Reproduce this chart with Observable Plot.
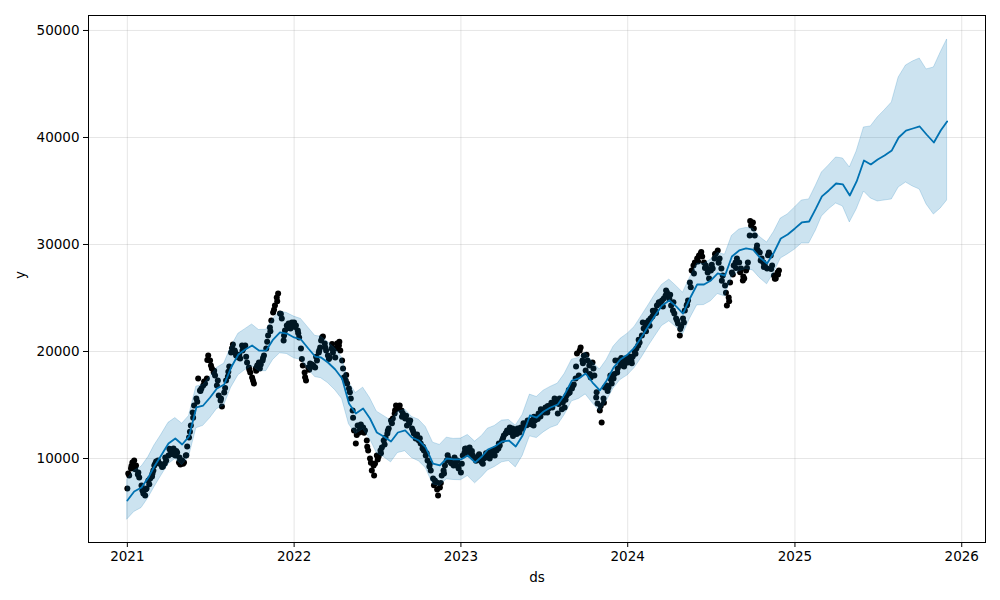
<!DOCTYPE html>
<html>
<head>
<meta charset="utf-8">
<script src="https://cdn.jsdelivr.net/npm/d3@7"></script>
<script src="https://cdn.jsdelivr.net/npm/@observablehq/plot@0.6"></script>
<style>
  html, body { margin: 0; padding: 0; background: #fff; }
  #chart { width: 1000px; height: 600px; }
</style>
</head>
<body>
<div id="chart"></div>
<script>
// ---- Data ----
const months = [
  "2021-01","2021-02","2021-03","2021-04","2021-05","2021-06","2021-07","2021-08","2021-09","2021-10","2021-11","2021-12",
  "2022-01","2022-02","2022-03","2022-04","2022-05","2022-06","2022-07","2022-08","2022-09","2022-10","2022-11","2022-12",
  "2023-01","2023-02","2023-03","2023-04","2023-05","2023-06","2023-07","2023-08","2023-09","2023-10","2023-11","2023-12",
  "2024-01","2024-02","2024-03","2024-04","2024-05","2024-06","2024-07","2024-08","2024-09","2024-10","2024-11","2024-12",
  "2025-01","2025-02","2025-03","2025-04","2025-05","2025-06","2025-07","2025-08","2025-09","2025-10","2025-11"
];
const halfDays = ["01", "16"];
const lastDate = "2025-11-30";

// forecast (yhat) at the 1st and 16th of each month, then the last date
const yhat = [
  6080, 6920, 7290, 8220, 9250, 10280, 11400, 11870, 11310, 12060, 14770, 14950,
  15700, 16540, 16920, 18500, 19720, 20190, 20560, 20090, 20090, 21120, 21780, 21680,
  21310, 21120, 20280, 19530, 19440, 18970, 18320, 17480, 15140, 14210, 14670, 13740,
  12430, 12060, 11590, 12430, 12620, 11960, 11680, 11030, 9530, 9350, 10000, 9910,
  9910, 10280, 9630, 10190, 10840, 11120, 11590, 11680, 11120, 12150, 14020, 13830,
  14390, 14770, 15050, 15980, 17290, 17480, 17940, 17100, 16360, 17290, 18500, 19250,
  19720, 20370, 21400, 22430, 23370, 24300, 24770, 24210, 23550, 24950, 26260, 26260,
  26640, 27290, 27100, 28880, 29440, 29630, 29530, 28790, 28230, 29250, 30560, 30940,
  31500, 32060, 32150, 33370, 34490, 35050, 35700, 35610, 34580, 35890, 37850, 37480,
  37950, 38320, 38790, 40000, 40650, 40840, 41030, 40280, 39530, 40650, 41500
];
const yhatUpper = [
  8050, 8850, 9230, 10130, 11200, 12190, 13330, 13780, 13250, 13970, 16720, 16870,
  17640, 18460, 18870, 20410, 21660, 22090, 22520, 22010, 22030, 23040, 23720, 23600,
  23260, 23040, 22230, 21460, 21380, 20890, 20270, 19400, 17090, 16120, 16620, 15650,
  14380, 13980, 13540, 14350, 14570, 13880, 13620, 12950, 11480, 11270, 11950, 11830,
  11860, 12200, 11580, 12110, 12790, 13040, 13540, 13600, 13070, 14070, 15970, 15750,
  16340, 16690, 17000, 17900, 19240, 19400, 19890, 19020, 18310, 19210, 20450, 21170,
  21670, 22290, 23350, 24350, 25320, 26220, 26720, 26130, 25500, 26870, 28210, 28180,
  28590, 29210, 29050, 30800, 31390, 31550, 31480, 30710, 30180, 31170, 32430, 32800,
  33460, 34110, 34210, 35510, 36730, 37380, 38130, 38040, 37200, 38690, 40940, 41030,
  41870, 42520, 43270, 45610, 46730, 47100, 47380, 46360, 46540, 47950, 49160
];
const yhatLower = [
  4300, 5000, 5370, 6310, 7300, 8360, 9460, 9960, 9380, 10160, 12830, 13050,
  13760, 14610, 14980, 16600, 17780, 18270, 18620, 18170, 18160, 19210, 19830, 19770,
  19360, 19220, 18330, 17610, 17500, 17050, 16380, 15560, 13200, 12290, 12730, 11820,
  10490, 10140, 9640, 10510, 10680, 10040, 9740, 9110, 7580, 7430, 8050, 7990,
  7970, 8360, 7680, 8270, 8890, 9200, 9640, 9760, 9170, 10230, 12070, 11910,
  12440, 12850, 13100, 14060, 15340, 15560, 15990, 15180, 14410, 15370, 16550, 17330,
  17770, 18450, 19450, 20510, 21420, 22380, 22820, 22290, 21600, 23030, 24310, 24340,
  24690, 25370, 25150, 26960, 27490, 27710, 27580, 26870, 26280, 27330, 28690, 29070,
  29530, 30090, 30090, 31310, 32620, 33270, 33830, 33550, 32060, 33270, 34950, 34300,
  34020, 34110, 34210, 35330, 35790, 35420, 35140, 33740, 32800, 33370, 34110
];

// observed values: 12 readings per month (days below), Jan 2021 .. Nov 2024
const obsDays = ["01", "03", "05", "09", "10", "12", "16", "18", "20", "24", "25", "27"];
const obsValues = [
  [7200, 8600, 8410, 9070, 9300, 9630, 9810, 9000, 9350, 8500, 8700, 8220],
  [7480, 7000, 6730, 6540, 7100, 7200, 7940, 7600, 8130, 8320, 8600, 8880],
  [9350, 9500, 9720, 9810, 9650, 9530, 9440, 9200, 9250, 9530, 10100, 9810],
  [10280, 10900, 10750, 10560, 10400, 10940, 10280, 10700, 10560, 9630, 10100, 9440],
  [9810, 9500, 9630, 10280, 10300, 11120, 11960, 12500, 13080, 14300, 13800, 14950],
  [15610, 15300, 17480, 16360, 16300, 16540, 16820, 17200, 17010, 17480, 19200, 19630],
  [19160, 18700, 18410, 18040, 18200, 17760, 16820, 17300, 15890, 15420, 15600, 14860],
  [16170, 16600, 17290, 17660, 18100, 18600, 19910, 20300, 20650, 20090, 19900, 19630],
  [19440, 19700, 19350, 20560, 20100, 20280, 20560, 19500, 18970, 18500, 18300, 18040],
  [17570, 17300, 17010, 18410, 18200, 18690, 18970, 18400, 18790, 19160, 19400, 19630],
  [20280, 20900, 21500, 22240, 21900, 22900, 23650, 23900, 24300, 25050, 24700, 25420],
  [23550, 23500, 23080, 21030, 21500, 21960, 22430, 22200, 22620, 22150, 22400, 22710],
  [22710, 22300, 22430, 21960, 21700, 21310, 20280, 19300, 18690, 18040, 17600, 17290],
  [18500, 18300, 18880, 18790, 18600, 18690, 18500, 19500, 19160, 19910, 20100, 20370],
  [21030, 21300, 21400, 20750, 20400, 20090, 19630, 19300, 19440, 20280, 20700, 19910],
  [19440, 20300, 20750, 20560, 20900, 20090, 19160, 18400, 17570, 17290, 17800, 17010],
  [16540, 16200, 15610, 14490, 13800, 12620, 11400, 12200, 13080, 12430, 12700, 13180],
  [12900, 12400, 12620, 11680, 11100, 10750, 10000, 9600, 8880, 9350, 8400, 9530],
  [10280, 9900, 10190, 10750, 10500, 11030, 11680, 11300, 11960, 12340, 12600, 12800],
  [13550, 13300, 13740, 14210, 14500, 14950, 14670, 14800, 14950, 14490, 13900, 14210],
  [13740, 14000, 13080, 13550, 13300, 13550, 12800, 12600, 12340, 11870, 11900, 12240],
  [11680, 11900, 11400, 10940, 11100, 10750, 10280, 10500, 9810, 9250, 9500, 8880],
  [8130, 7500, 7940, 7760, 7100, 6540, 7290, 7700, 8410, 8880, 8600, 9350],
  [9810, 10300, 10000, 9810, 9600, 9530, 9350, 10100, 9630, 9810, 9300, 9070],
  [8690, 9500, 10280, 10560, 10900, 10940, 10750, 10400, 11030, 10560, 10700, 10280],
  [10000, 9800, 10090, 10280, 10400, 9810, 9630, 9500, 10000, 10090, 10500, 10280],
  [10280, 10600, 10000, 10560, 10300, 10750, 10280, 10900, 10750, 10940, 11400, 11220],
  [11680, 11900, 12150, 12340, 12400, 12620, 12620, 12900, 12430, 12800, 12100, 12340],
  [12620, 12300, 12800, 12430, 12700, 12900, 12800, 13300, 13080, 13270, 13100, 13550],
  [13360, 13200, 13550, 13080, 13900, 13550, 13830, 13700, 14210, 13930, 14600, 14490],
  [14490, 14300, 14770, 14300, 14900, 14670, 14950, 15200, 14770, 15230, 15600, 15420],
  [14210, 15100, 15610, 15420, 14600, 15230, 14770, 15500, 15890, 16080, 16400, 16170],
  [16540, 16800, 16920, 17480, 18600, 19810, 17760, 20100, 20370, 19160, 18900, 19630],
  [18220, 19700, 19160, 18690, 17900, 17570, 18970, 18400, 17760, 15700, 16200, 15140],
  [14490, 14900, 13360, 15610, 15200, 16640, 16820, 16300, 16640, 17760, 17400, 17010],
  [17480, 17900, 19160, 18040, 18400, 19160, 18690, 19400, 18970, 18600, 18800, 19350],
  [18970, 19200, 19530, 19160, 18900, 19530, 20000, 19800, 20280, 20560, 21100, 20840],
  [21500, 22700, 22150, 22340, 21900, 22710, 22900, 22400, 23080, 23270, 23800, 23550],
  [23830, 23600, 24300, 24580, 24600, 24490, 24770, 24200, 24950, 25230, 25700, 25510],
  [24950, 25300, 24300, 23830, 24600, 23550, 23080, 22900, 22620, 21500, 22100, 22340],
  [23080, 22700, 23830, 24300, 24400, 24770, 26450, 26000, 27570, 28040, 27300, 28320],
  [28690, 28400, 28970, 29160, 29300, 28880, 28320, 27800, 28040, 27380, 27700, 26820],
  [27570, 28100, 27760, 28690, 29100, 29160, 29440, 28300, 28690, 27760, 26600, 27100],
  [26170, 25500, 24300, 25050, 24700, 26450, 27380, 27200, 28040, 28320, 27800, 28690],
  [28320, 27400, 27760, 26640, 27000, 26820, 27570, 27800, 28320, 30840, 32200, 31780],
  [32060, 31500, 30840, 29630, 29900, 29440, 29250, 28500, 28690, 28320, 27900, 28040],
  [27760, 29000, 29250, 28970, 27700, 28040, 27100, 26800, 26820, 27380, 27200, 27570]
];

const xTicks = ["2021-01-01","2022-01-01","2023-01-01","2024-01-01","2025-01-01","2026-01-01"];
const yTicks = [10000, 20000, 30000, 40000, 50000];
const xDomain = ["2020-10-08", "2026-02-22"];
const yDomain = [2150, 51400];

// ---- Build tables ----
const toDate = s => new Date(s + "T00:00:00Z");
const fcDates = [];
months.forEach(m => halfDays.forEach(d => fcDates.push(`${m}-${d}`)));
fcDates.push(lastDate);
const forecast = fcDates.map((d, i) => ({
  ds: toDate(d),
  yhat: yhat[i],
  lower: yhatLower[i],
  upper: yhatUpper[i]
}));
const observed = [];
obsValues.forEach((vals, mi) => vals.forEach((v, di) => {
  observed.push({ds: toDate(`${months[mi]}-${obsDays[di]}`), y: v});
}));
const xTickDates = xTicks.map(toDate);

const chart = Plot.plot({
  width: 1000,
  height: 600,
  marginLeft: 88,
  marginRight: 15,
  marginTop: 15,
  marginBottom: 58,
  style: {fontFamily: "DejaVu Sans, sans-serif", fontSize: "13.5px", color: "black", background: "white"},
  x: {type: "utc", domain: xDomain.map(toDate)},
  y: {domain: yDomain},
  marks: [
    Plot.gridX(xTickDates, {stroke: "gray", strokeOpacity: 0.2, strokeWidth: 1}),
    Plot.gridY(yTicks, {stroke: "gray", strokeOpacity: 0.2, strokeWidth: 1}),
    Plot.dot(observed, {x: "ds", y: "y", r: 3, fill: "black", stroke: "none"}),
    Plot.line(forecast, {x: "ds", y: "yhat", stroke: "#0072B2", strokeWidth: 1.8}),
    Plot.areaY(forecast, {x: "ds", y1: "lower", y2: "upper", fill: "#0072B2", fillOpacity: 0.2, stroke: "#0072B2", strokeOpacity: 0.2}),
    Plot.axisX(xTickDates, {tickFormat: d => String(d.getUTCFullYear()), tickSize: 5, tickPadding: 4, label: null}),
    Plot.axisY(yTicks, {tickFormat: d3.format("d"), tickSize: 5, tickPadding: 4, label: null}),
    Plot.frame({stroke: "black"}),
    Plot.text(["ds"], {frameAnchor: "bottom", dy: 39, fontSize: 13.5}),
    Plot.text(["y"], {frameAnchor: "left", dx: -68, rotate: -90, fontSize: 13.5})
  ]
});
document.getElementById("chart").appendChild(chart);
</script>
</body>
</html>
